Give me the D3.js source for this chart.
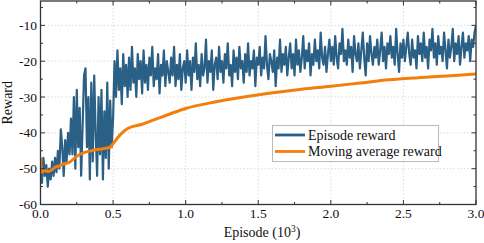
<!DOCTYPE html>
<html lang="en">

<body style="margin:0;background:#fff">
    <script type='text/javascript' src='https://d3js.org/d3.v7.min.js'></script>
    <script>
        // episode reward, one value per 10 episodes (x in 10^3)
        var rewardSeries = [
            -48, -54, -47, -52, -49, -55, -50, -53, -48, -52, -47,
            -51, -45, -50, -39, -44, -52, -42, -48, -40, -46,
            -36, -46, -30, -50, -28, -44, -33, -52, -38, -24,
            -22, -44, -30, -53, -26, -48, -24, -40, -52, -30,
            -46, -28, -53, -34, -47, -26, -50, -31, -44, -36,
            -20, -30, -17, -28, -22, -32, -18, -27, -21, -30,
            -19, -28, -16, -26, -22, -30, -18, -25, -20, -29,
            -17, -26, -21, -28, -19, -24, -16, -27, -22, -25,
            -18, -29, -21, -24, -17, -27, -20, -23, -26, -19,
            -24, -16, -27, -21, -25, -18, -28, -22, -20, -26,
            -17, -24, -20, -28, -19, -23, -15, -25, -21, -27,
            -18, -24, -22, -14, -26, -20, -23, -17, -28, -21,
            -19, -25, -16, -23, -20, -26, -18, -22, -15, -24,
            -21, -27, -17, -23, -19, -25, -16, -22, -20, -26,
            -18, -23, -15, -24, -20, -22, -17, -27, -19, -21,
            -16, -24, -19, -22, -13, -21, -25, -18, -20, -23,
            -17, -27, -19, -22, -14, -23, -18, -21, -16, -24,
            -19, -15, -22, -18, -24, -14, -21, -17, -23, -19,
            -13, -22, -17, -20, -15, -24, -18, -21, -14, -20,
            -17, -22, -12, -19, -21, -16, -23, -18, -14, -20,
            -16, -21, -13, -19, -22, -15, -18, -11, -20, -17,
            -21, -14, -19, -16, -23, -13, -18, -20, -15, -22,
            -17, -12, -19, -24, -15, -20, -13, -18, -21, -16,
            -19, -14, -21, -17, -12, -20, -16, -22, -15, -18,
            -13, -19, -16, -21, -11, -18, -23, -15, -19, -14,
            -20, -16, -12, -18, -21, -14, -19, -17, -22, -13,
            -18, -15, -20, -12, -19, -16, -22, -14, -17, -11,
            -19, -15, -21, -13, -18, -16, -20, -12, -17, -22,
            -14, -19, -16, -11, -20, -15, -18, -13, -21, -16,
            -12, -19, -15, -17, -13, -20, -14, -16, -12, -10
        ];
        var rewardStep = 0.01;

        var avgEpisodes = [0, 0.01, 0.03, 0.05, 0.08, 0.1, 0.13, 0.15, 0.2, 0.25, 0.3, 0.35, 0.4, 0.45, 0.48,
            0.5, 0.55, 0.6, 0.7, 0.8, 0.9, 1.0, 1.2, 1.4, 1.6, 1.8, 2.0, 2.2, 2.4, 2.6, 2.8, 3.0];
        var avgReward = [-47, -51, -50.5, -50.8, -50.3, -49.6, -49.2, -48.8, -48.2, -46.5, -45.5, -45, -44.6, -44.3, -44,
            -43, -40.5, -38.8, -37.6, -36.1, -34.6, -33.2, -31.4, -30, -28.8, -27.8, -27, -26.1, -25.2, -24.6, -24.1, -23.6];

        var xTicks = [0, 0.5, 1.0, 1.5, 2.0, 2.5, 3.0];
        var yTicks = [-60, -50, -40, -30, -20, -10];
        var legendLabels = ["Episode reward", "Moving average reward"];

        const W = 484, H = 243;
        const pLeft = 40.5, pRight = 476, pTop = 1, pBottom = 204.5;
        const blue = "#2a5f86", orange = "#f27f0c", frame = "#333";
        const font = "'Liberation Serif', 'Times New Roman', serif";

        var svg = d3.select("body").append("svg")
            .attr("width", W).attr("height", H)
            .style("display", "block");

        var x = d3.scaleLinear().domain([0, 3]).range([pLeft, pRight]);
        var y = d3.scaleLinear().domain([-60, -3.2]).range([pBottom, pTop]);

        // grid
        var grid = svg.append("g").attr("stroke", "#d4d4d4").attr("stroke-dasharray", "1.5,2").attr("stroke-width", 0.8);
        xTicks.slice(1, -1).forEach(function (t) {
            grid.append("line").attr("x1", x(t)).attr("x2", x(t)).attr("y1", pTop).attr("y2", pBottom);
        });
        yTicks.slice(1).forEach(function (t) {
            grid.append("line").attr("x1", pLeft).attr("x2", pRight).attr("y1", y(t)).attr("y2", y(t));
        });

        svg.append("clipPath").attr("id", "clip")
            .append("rect").attr("x", pLeft).attr("y", pTop).attr("width", pRight - pLeft).attr("height", pBottom - pTop);

        var plot = svg.append("g").attr("clip-path", "url(#clip)");

        var line = d3.line()
            .x(function (d) { return x(d[0]); })
            .y(function (d) { return y(d[1]); });

        plot.append("path")
            .datum(rewardSeries.map(function (v, i) { return [i * rewardStep, v]; }))
            .attr("d", line)
            .attr("fill", "none").attr("stroke", blue).attr("stroke-width", 2.2)
            .attr("stroke-linejoin", "round");

        plot.append("path")
            .datum(avgEpisodes.map(function (e, i) { return [e, avgReward[i]]; }))
            .attr("d", line.curve(d3.curveMonotoneX))
            .attr("fill", "none").attr("stroke", orange).attr("stroke-width", 3)
            .attr("stroke-linejoin", "round");

        // axes with inward ticks
        var xMinor = d3.range(0, 3.01, 0.25);
        var yMinor = d3.range(-60, -3.2, 5);

        function ticksX(yy, dir) {
            var g = svg.append("g").attr("stroke", frame).attr("stroke-width", 1);
            xMinor.forEach(function (t, i) {
                var len = i % 2 === 0 ? 4.5 : 2.5;
                g.append("line").attr("x1", x(t)).attr("x2", x(t)).attr("y1", yy).attr("y2", yy + dir * len);
            });
        }
        function ticksY(xx, dir) {
            var g = svg.append("g").attr("stroke", frame).attr("stroke-width", 1);
            yMinor.forEach(function (t, i) {
                var len = i % 2 === 0 ? 4.5 : 2.5;
                g.append("line").attr("y1", y(t)).attr("y2", y(t)).attr("x1", xx).attr("x2", xx + dir * len);
            });
        }
        ticksX(pBottom, -1);
        ticksX(pTop, 1);
        ticksY(pLeft, 1);
        ticksY(pRight, -1);

        svg.append("rect").attr("x", pLeft).attr("y", pTop)
            .attr("width", pRight - pLeft).attr("height", pBottom - pTop)
            .attr("fill", "none").attr("stroke", frame).attr("stroke-width", 1.3);

        // tick labels
        svg.append("g").selectAll("text").data(xTicks).enter().append("text")
            .attr("x", function (d) { return x(d); })
            .attr("y", 218)
            .attr("text-anchor", "middle")
            .style("font-family", font).style("font-size", "13.5px").attr("fill", "#111")
            .text(function (d) { return d.toFixed(1); });

        svg.append("g").selectAll("text").data(yTicks).enter().append("text")
            .attr("x", 37)
            .attr("y", function (d) { return y(d) + 4.5; })
            .attr("text-anchor", "end")
            .style("font-family", font).style("font-size", "13.5px").attr("fill", "#111")
            .text(function (d) { return d; });

        // axis titles
        svg.append("text")
            .attr("transform", "translate(12," + ((pTop + pBottom) / 2) + ") rotate(-90)")
            .attr("text-anchor", "middle")
            .style("font-family", font).style("font-size", "14px").attr("fill", "#111")
            .text("Reward");

        var xt = svg.append("text")
            .attr("x", 262).attr("y", 237)
            .attr("text-anchor", "middle")
            .style("font-family", font).style("font-size", "14px").attr("fill", "#111");
        xt.append("tspan").text("Episode (10");
        xt.append("tspan").attr("dy", -5).style("font-size", "9.5px").text("3");
        xt.append("tspan").attr("dy", 5).text(")");

        // legend
        var lg = svg.append("g");
        lg.append("rect").attr("x", 272.5).attr("y", 125.5).attr("width", 166).attr("height", 36)
            .attr("fill", "#fff").attr("stroke", "#aaa").attr("stroke-width", 0.8);
        [blue, orange].forEach(function (c, i) {
            var yy = 135 + i * 16.5;
            lg.append("line").attr("x1", 275).attr("x2", 305).attr("y1", yy).attr("y2", yy)
                .attr("stroke", c).attr("stroke-width", 2.8);
            lg.append("text").attr("x", 308).attr("y", yy + 4.5)
                .style("font-family", font).style("font-size", "14px").attr("fill", "#111")
                .text(legendLabels[i]);
        });
    </script>

</body>

</html>
